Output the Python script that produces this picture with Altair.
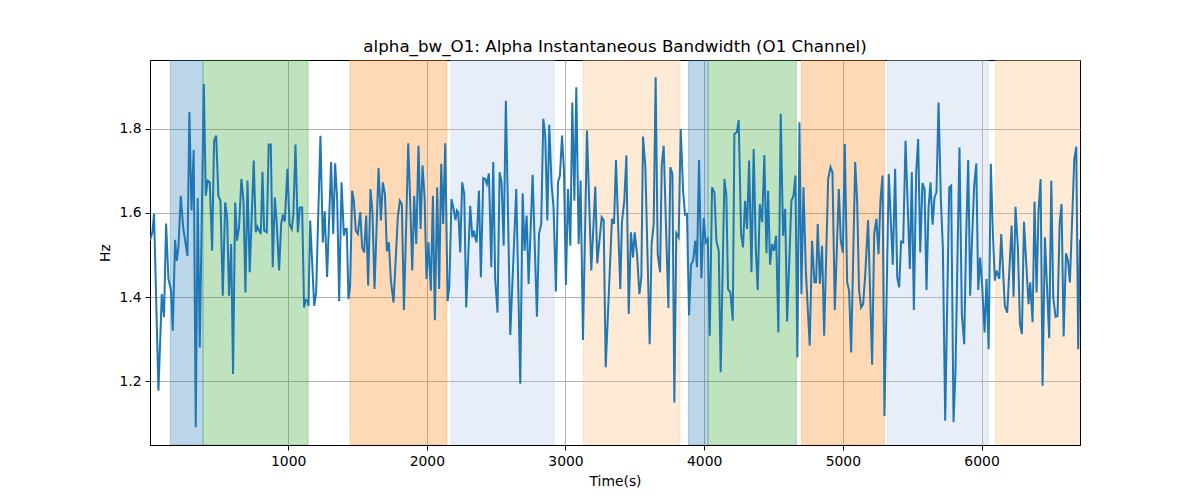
import altair as alt
import pandas as pd

time_s = [4, 21, 33, 65, 89, 105, 120, 137, 156, 168, 185, 197, 209, 226, 243, 274, 288, 303, 319, 334,
          348, 363, 392, 406, 420, 435, 452, 466, 481, 497, 512, 529, 546, 560, 574, 589, 603, 618, 632, 646,
          663, 678, 692,
          707, 723, 752, 767, 779, 791, 803, 815, 827, 846, 860, 875, 889, 904, 918, 935, 950, 962, 976, 995,
          1010, 1026, 1038, 1053, 1070, 1084, 1101, 1115, 1127, 1140, 1147, 1159, 1188, 1202, 1233, 1250, 1264,
          1281, 1310, 1325, 1339, 1354, 1368,
          1385, 1402, 1412, 1423, 1435, 1447, 1462, 1474, 1488, 1503, 1520, 1534, 1548, 1563, 1577, 1594, 1608,
          1623, 1652, 1669, 1683, 1698, 1712, 1726, 1741, 1760, 1791, 1806, 1820, 1835, 1849, 1866, 1880, 1895,
          1909, 1924, 1940, 1955, 1969, 1984, 1998, 2012, 2029,
          2044, 2058, 2075, 2089, 2104, 2118, 2133, 2150, 2162, 2178, 2193, 2207, 2217, 2227, 2241, 2255, 2270,
          2284, 2313, 2328, 2340, 2349, 2359, 2376, 2390, 2407, 2421, 2433, 2448, 2465, 2479, 2493, 2510, 2525,
          2539, 2554, 2570, 2602, 2645, 2674, 2691, 2705, 2720, 2734,
          2763, 2794, 2809, 2825, 2840, 2854, 2869, 2883, 2900, 2914, 2931, 2946, 2960, 2975, 2989, 3003, 3018,
          3035, 3049, 3064, 3078, 3095, 3109, 3126, 3155, 3186, 3215, 3229, 3261, 3275, 3290, 3335, 3350, 3364,
          3395,
          3407, 3424, 3439, 3456, 3472, 3487, 3499, 3516, 3533, 3547, 3559, 3576, 3607, 3621, 3636, 3650, 3665,
          3682, 3694, 3708, 3725, 3742, 3756, 3771, 3785, 3799, 3816, 3831, 3848, 3862, 3876, 3891, 3905, 3920,
          3936, 3948, 3963, 3980, 3997, 4011, 4026, 4040, 4057, 4074, 4088,
          4105, 4119, 4146, 4160, 4172, 4189, 4206, 4218, 4235, 4249, 4266, 4280, 4295, 4309, 4324, 4341, 4357,
          4372, 4386, 4401, 4418, 4434, 4449, 4461, 4475, 4490, 4504, 4519, 4535, 4552, 4569, 4584, 4598, 4629,
          4644, 4658, 4672, 4687, 4701, 4716, 4733, 4761, 4778, 4795,
          4807, 4819, 4834, 4850, 4865, 4894, 4911, 4925, 4942, 4971, 4985, 5000, 5014, 5031, 5045, 5060, 5089,
          5103, 5117, 5132, 5146, 5161, 5182, 5211, 5226, 5242, 5257, 5271, 5286, 5300, 5331, 5360, 5377, 5392,
          5406, 5420, 5435, 5452,
          5483, 5497, 5512, 5529, 5543, 5558, 5574, 5589, 5603, 5618, 5632, 5647, 5661, 5675, 5690, 5707, 5721,
          5738, 5767, 5781, 5798, 5812, 5827, 5841, 5858, 5875, 5889, 5904, 5918, 5932, 5947, 5962, 5976, 5990,
          6005, 6022, 6036, 6051, 6067, 6082,
          6096, 6108, 6128, 6142, 6168, 6185, 6217, 6231, 6245, 6262, 6277, 6291, 6306, 6320, 6339, 6351, 6368,
          6382, 6397, 6411, 6426, 6440, 6457, 6488, 6503, 6517, 6534, 6548, 6563, 6577, 6592, 6609, 6623, 6637,
          6669, 6683, 6697, 6710]

alpha_bw = [1.534, 1.554, 1.598, 1.177, 1.407, 1.352, 1.575, 1.443, 1.415, 1.320, 1.536, 1.486, 1.518, 1.641,
            1.566, 1.498, 1.840, 1.606, 1.750, 1.090, 1.635, 1.280, 1.907, 1.641, 1.677, 1.673, 1.510, 1.772,
            1.784, 1.641, 1.629, 1.403, 1.625, 1.590, 1.403, 1.526, 1.217, 1.625, 1.534, 1.566, 1.681, 1.629,
            1.411,
            1.677, 1.459, 1.725, 1.554, 1.567, 1.558, 1.550, 1.698, 1.558, 1.554, 1.763, 1.763, 1.471, 1.637,
            1.574, 1.463, 1.574, 1.596, 1.580, 1.705, 1.574, 1.562, 1.598, 1.763, 1.554, 1.613, 1.613, 1.375,
            1.393, 1.391, 1.379, 1.582, 1.379, 1.411, 1.784, 1.530, 1.604, 1.448, 1.721, 1.550, 1.718, 1.629,
            1.390,
            1.673, 1.546, 1.562, 1.562, 1.395, 1.427, 1.653, 1.629, 1.558, 1.550, 1.602, 1.518, 1.506, 1.594,
            1.427, 1.657, 1.602, 1.419, 1.707, 1.582, 1.673, 1.645, 1.509, 1.530, 1.439, 1.387, 1.590, 1.629,
            1.621, 1.369, 1.542, 1.766, 1.629, 1.463, 1.641, 1.526, 1.760, 1.562, 1.713, 1.637, 1.443, 1.530,
            1.415,
            1.641, 1.345, 1.661, 1.419, 1.717, 1.574, 1.766, 1.390, 1.423, 1.633, 1.610, 1.583, 1.606, 1.602,
            1.506, 1.673, 1.645, 1.375, 1.617, 1.542, 1.558, 1.542, 1.530, 1.653, 1.447, 1.683, 1.681, 1.669,
            1.694, 1.471, 1.721, 1.443, 1.363, 1.697, 1.673, 1.522, 1.867, 1.310, 1.657, 1.194, 1.647, 1.510,
            1.594, 1.431,
            1.691, 1.353, 1.550, 1.574, 1.824, 1.784, 1.582, 1.810, 1.665, 1.613, 1.413, 1.673, 1.689, 1.784,
            1.701, 1.429, 1.657, 1.522, 1.863, 1.629, 1.899, 1.526, 1.677, 1.298, 1.796, 1.463, 1.663, 1.480,
            1.590, 1.583, 1.233, 1.586, 1.574, 1.726, 1.419,
            1.578, 1.629, 1.737, 1.360, 1.554, 1.494, 1.554, 1.502, 1.407, 1.447, 1.782, 1.709, 1.288, 1.526,
            1.574, 1.923, 1.502, 1.459, 1.713, 1.760, 1.566, 1.374, 1.709, 1.693, 1.149, 1.552, 1.542, 1.800,
            1.653, 1.596, 1.598, 1.356, 1.477, 1.487, 1.534, 1.471, 1.726, 1.445, 1.588, 1.530, 1.538, 1.308,
            1.661, 1.649, 1.534,
            1.510, 1.221, 1.681, 1.641, 1.419, 1.411, 1.344, 1.788, 1.792, 1.821, 1.550, 1.518, 1.629, 1.562,
            1.725, 1.459, 1.752, 1.518, 1.417, 1.621, 1.578, 1.738, 1.504, 1.653, 1.477, 1.526, 1.510, 1.546,
            1.316, 1.836, 1.546, 1.610, 1.342, 1.629, 1.641, 1.689, 1.256, 1.816, 1.407, 1.661, 1.463, 1.284,
            1.534, 1.435,
            1.435, 1.574, 1.431, 1.522, 1.308, 1.681, 1.709, 1.697, 1.369, 1.657, 1.534, 1.506, 1.764, 1.435,
            1.415, 1.268, 1.721, 1.629, 1.415, 1.375, 1.383, 1.451, 1.583, 1.239, 1.550, 1.586, 1.502, 1.629,
            1.689, 1.117, 1.693, 1.477, 1.705, 1.447, 1.423, 1.532, 1.530, 1.772,
            1.467, 1.697, 1.369, 1.697, 1.776, 1.506, 1.671, 1.657, 1.417, 1.613, 1.673, 1.572, 1.637, 1.649,
            1.863, 1.629, 1.518, 1.106, 1.661, 1.665, 1.102, 1.221, 1.502, 1.756, 1.360, 1.288, 1.542, 1.726,
            1.403, 1.542, 1.665, 1.718, 1.417, 1.494, 1.423, 1.316, 1.443, 1.276, 1.717, 1.550,
            1.439, 1.463, 1.443, 1.550, 1.379, 1.363, 1.570, 1.401, 1.615, 1.518, 1.336, 1.312, 1.579, 1.494,
            1.383, 1.435, 1.340, 1.627, 1.411, 1.606, 1.681, 1.189, 1.542, 1.302, 1.677, 1.399, 1.353, 1.355,
            1.574, 1.621, 1.306, 1.504, 1.487, 1.435, 1.729, 1.758, 1.276, 1.537]

region_start = [150, 386, 1447, 2174, 3128, 3886, 4028, 4701, 5322, 6101]
region_end = [386, 1144, 2145, 2919, 3826, 4028, 4665, 5300, 6048, 6714]
region_color = ["#1f77b4", "#2ca02c", "#ff7f0e", "#aec7e8", "#ffbb78",
                "#1f77b4", "#2ca02c", "#ff7f0e", "#aec7e8", "#ffbb78"]

x_ticks = [1000, 2000, 3000, 4000, 5000, 6000]
y_ticks = [1.2, 1.4, 1.6, 1.8]

line_df = pd.DataFrame({"t": time_s, "bw": alpha_bw})
reg_df = pd.DataFrame({"start": region_start, "end": region_end, "color": region_color})

FONT = "DejaVu Sans"
xscale = alt.Scale(domain=[4, 6710], nice=False, zero=False)
yscale = alt.Scale(domain=[1.048, 1.964], nice=False, zero=False)

xaxis = alt.Axis(values=x_ticks, format="d", title="Time(s)", grid=True)
yaxis = alt.Axis(values=y_ticks, format=".1f", title="Hz", grid=True)

rects = alt.Chart(reg_df).mark_rect(clip=True, fillOpacity=0.3, strokeOpacity=0.3, strokeWidth=1).encode(
    x=alt.X("start:Q", scale=xscale, axis=xaxis),
    x2="end:Q",
    y=alt.value(0),
    y2=alt.value(385),
    color=alt.Color("color:N", scale=None),
    stroke=alt.Stroke("color:N", scale=None),
)

line = alt.Chart(line_df).mark_line(color="#1f77b4", strokeWidth=2, clip=True).encode(
    x=alt.X("t:Q", scale=xscale, axis=xaxis),
    y=alt.Y("bw:Q", scale=yscale, axis=yaxis),
)

chart = alt.layer(rects, line).properties(
    width=930,
    height=385,
    title=alt.TitleParams("alpha_bw_O1: Alpha Instantaneous Bandwidth (O1 Channel)",
                          font=FONT, fontSize=16.7, fontWeight="normal", color="black", offset=4),
    autosize=alt.AutoSizeParams(type="none"),
    padding={"left": 142, "top": 52, "right": 112, "bottom": 47},
).configure_view(
    stroke="black", strokeWidth=1
).configure_axis(
    labelFont=FONT, labelFontSize=13.9, labelColor="black",
    titleFont=FONT, titleFontSize=13.9, titleFontWeight="normal", titleColor="black",
    domainColor="black", domainWidth=1, tickColor="black", tickSize=5, tickWidth=1,
    labelPadding=4, gridColor="#b0b0b0", gridWidth=1,
).configure_axisX(titlePadding=7).configure_axisY(titlePadding=6)

chart.save("out.html", embed_options={"renderer": "svg", "actions": False})
